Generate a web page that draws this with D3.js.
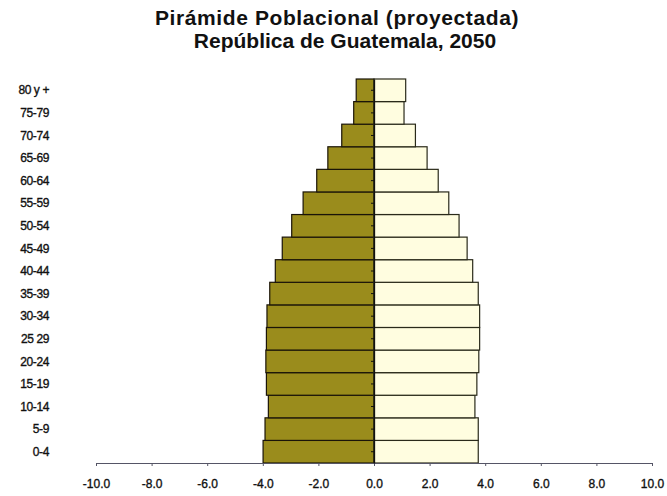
<!DOCTYPE html>
<meta charset="utf-8">
<script src="https://d3js.org/d3.v7.min.js"></script>
<style>
body { margin: 0; background: #fff; }
text { font-family: 'Liberation Sans', Arial, sans-serif; fill: #111; }
.title { font-size: 21px; font-weight: bold; }
.lbl { font-size: 12px; stroke: #111; stroke-width: 0.35px; }
</style>
<div id="chart"></div>
<script>
// grupos de edad, de abajo hacia arriba
var grupos = ["0-4", "5-9", "10-14", "15-19", "20-24", "25 29", "30-34", "35-39",
              "40-44", "45-49", "50-54", "55-59", "60-64", "65-69", "70-74", "75-79", "80 y +"];
// porcentajes de la poblacion (lado izquierdo / lado derecho)
var hombres = [3.99, 3.92, 3.80, 3.87, 3.89, 3.87, 3.85, 3.75, 3.55, 3.30, 2.96, 2.55, 2.06, 1.66, 1.16, 0.73, 0.64];
var mujeres = [3.75, 3.75, 3.63, 3.70, 3.77, 3.80, 3.80, 3.75, 3.55, 3.35, 3.06, 2.69, 2.31, 1.91, 1.49, 1.08, 1.14];
var ticksX = [-10, -8, -6, -4, -2, 0, 2, 4, 6, 8, 10];

var width = 667, height = 496;

var svg = d3.select("#chart").append("svg")
    .attr("width", width)
    .attr("height", height);

var x = d3.scaleLinear().domain([-10, 10]).range([96, 652]);
var y = d3.scaleBand().domain(grupos.slice().reverse()).range([79, 463]).padding(0);

// titulo
svg.append("text").attr("class", "title")
    .attr("x", 337).attr("y", 25).attr("text-anchor", "middle")
    .style("letter-spacing", "0.6px")
    .text("Pirámide Poblacional (proyectada)");
svg.append("text").attr("class", "title")
    .attr("x", 345).attr("y", 48).attr("text-anchor", "middle")
    .text("República de Guatemala, 2050");

// barras izquierda
svg.append("g").selectAll("rect")
    .data(grupos)
    .enter().append("rect")
    .attr("x", function(d, i) { return x(-hombres[i]); })
    .attr("y", function(d) { return y(d); })
    .attr("width", function(d, i) { return x(0) - x(-hombres[i]); })
    .attr("height", y.bandwidth())
    .style("fill", "#9a8c1c")
    .style("stroke", "#1a1408")
    .style("stroke-width", 1.2);

// barras derecha
svg.append("g").selectAll("rect")
    .data(grupos)
    .enter().append("rect")
    .attr("x", x(0))
    .attr("y", function(d) { return y(d); })
    .attr("width", function(d, i) { return x(mujeres[i]) - x(0); })
    .attr("height", y.bandwidth())
    .style("fill", "#fffde0")
    .style("stroke", "#2a2a1a")
    .style("stroke-width", 1.2);

// eje x (guion normal en vez del signo menos)
var fmt = function(d) { return d3.format(".1f")(d).replace("\u2212", "-"); };
var ejeX = svg.append("g")
    .attr("transform", "translate(0," + 463 + ")")
    .call(d3.axisBottom(x).tickValues(ticksX).tickFormat(fmt).tickSize(3).tickSizeOuter(0));
ejeX.select(".domain").attr("stroke", "#556");
ejeX.selectAll(".tick line").attr("stroke", "#556");
ejeX.selectAll("text").attr("class", "lbl").attr("dy", "1.6em").style("fill", "#111");

// eje y (en el cero)
var ejeY = svg.append("g")
    .attr("transform", "translate(" + x(0) + ",0)")
    .call(d3.axisLeft(y).tickSize(3).tickSizeOuter(0).tickFormat(""));
ejeY.select(".domain").attr("stroke", "#111").attr("stroke-width", 1.3);
ejeY.selectAll(".tick line").attr("stroke", "#111");

// etiquetas de grupos
svg.append("g").selectAll("text")
    .data(grupos)
    .enter().append("text")
    .attr("class", "lbl")
    .attr("x", 49)
    .attr("y", function(d) { return y(d) + y.bandwidth() / 2; })
    .attr("dy", "0.35em")
    .attr("text-anchor", "end")
    .style("letter-spacing", "-0.4px")
    .text(function(d) { return d; });
</script>
